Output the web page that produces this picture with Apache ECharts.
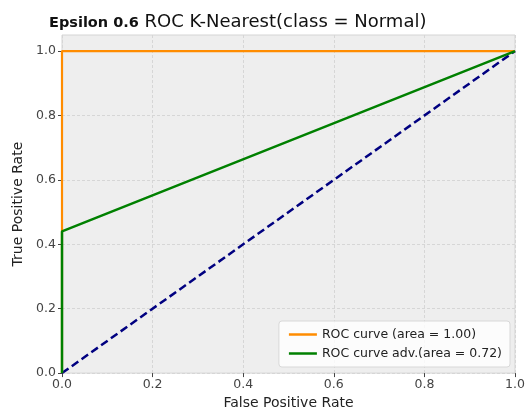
<!DOCTYPE html>
<html><head><meta charset="utf-8">
<script src="https://cdn.jsdelivr.net/npm/echarts@6/dist/echarts.min.js"></script>
<style>html,body{margin:0;padding:0;background:#fff;}#c{width:528px;height:415px;}</style>
</head><body><div id="c"></div>
<script>
const rocFpr = [0, 0, 1];
const rocTpr = [0, 1, 1];
const advFpr = [0, 0, 1];
const advTpr = [0, 0.44, 1];
const diagFpr = [0, 1];
const diagTpr = [0, 1];
const xTicks = [0, 0.2, 0.4, 0.6, 0.8, 1.0];
const yTicks = [0, 0.2, 0.4, 0.6, 0.8, 1.0];
const seriesNames = ['ROC curve (area = 1.00)', 'ROC curve adv.(area = 0.72)'];

const zip = (a, b) => a.map((v, i) => [v, b[i]]);
const font = 'DejaVu Sans';
const chart = echarts.init(document.getElementById('c'));
chart.setOption({
  animation: false,
  backgroundColor: '#fff',
  textStyle: { fontFamily: font },
  title: {
    left: 44, top: 8,
    text: '{b|Epsilon 0.6} {n|ROC K-Nearest(class = Normal)}',
    textStyle: {
      fontWeight: 'normal',
      rich: {
        b: { fontFamily: font, fontSize: 14.5, fontWeight: 'bold', color: '#111', verticalAlign: 'bottom' },
        n: { fontFamily: font, fontSize: 18, fontWeight: 'normal', color: '#111', verticalAlign: 'bottom' }
      }
    }
  },
  grid: {
    left: 62, right: 13, top: 35, bottom: 41,
    show: true, backgroundColor: '#eeeeee', borderColor: '#d4d4d4', borderWidth: 1
  },
  legend: {
    orient: 'vertical', right: 18, bottom: 48,
    data: seriesNames,
    icon: 'rect', itemWidth: 28, itemHeight: 2.5, itemGap: 6,
    padding: [7, 8, 7, 10],
    backgroundColor: 'rgba(255,255,255,0.8)', borderColor: '#d8d8d8', borderWidth: 1, borderRadius: 3,
    textStyle: { fontFamily: font, fontSize: 12.5, color: '#222' }
  },
  xAxis: {
    type: 'value', min: 0, max: 1, interval: 0.2,
    name: 'False Positive Rate', nameLocation: 'middle', nameGap: 22,
    nameTextStyle: { fontFamily: font, fontSize: 14, color: '#222' },
    axisLine: { show: false },
    axisTick: { show: true, length: 4, lineStyle: { color: '#444' }, customValues: xTicks },
    axisLabel: { margin: 5, fontSize: 12.5, color: '#444', fontFamily: font, customValues: xTicks,
      formatter: v => v.toFixed(1) },
    splitLine: { show: true, lineStyle: { color: '#d6d6d6', type: [3, 2], width: 1 } }
  },
  yAxis: {
    type: 'value', min: 0, max: 1.05, interval: 0.2,
    name: 'True Positive Rate', nameLocation: 'middle', nameGap: 33,
    nameTextStyle: { fontFamily: font, fontSize: 14, color: '#222' },
    axisLine: { show: false },
    axisTick: { show: true, length: 4, lineStyle: { color: '#444' }, customValues: yTicks },
    axisLabel: { margin: 6, fontSize: 12.5, color: '#444', fontFamily: font, customValues: yTicks,
      formatter: v => v.toFixed(1) },
    splitLine: { show: true, lineStyle: { color: '#d6d6d6', type: [3, 2], width: 1 } }
  },
  series: [
    { name: 'diag', type: 'line', data: zip(diagFpr, diagTpr), symbol: 'none', z: 1,
      lineStyle: { color: '#000080', width: 2.5, type: [8, 4] } },
    { name: seriesNames[0], type: 'line', data: zip(rocFpr, rocTpr), symbol: 'none', z: 2,
      itemStyle: { color: '#ff8c00' }, lineStyle: { color: '#ff8c00', width: 2.2 } },
    { name: seriesNames[1], type: 'line', data: zip(advFpr, advTpr), symbol: 'none', z: 3,
      itemStyle: { color: '#008000' }, lineStyle: { color: '#008000', width: 2.5 } }
  ]
});
</script></body></html>
